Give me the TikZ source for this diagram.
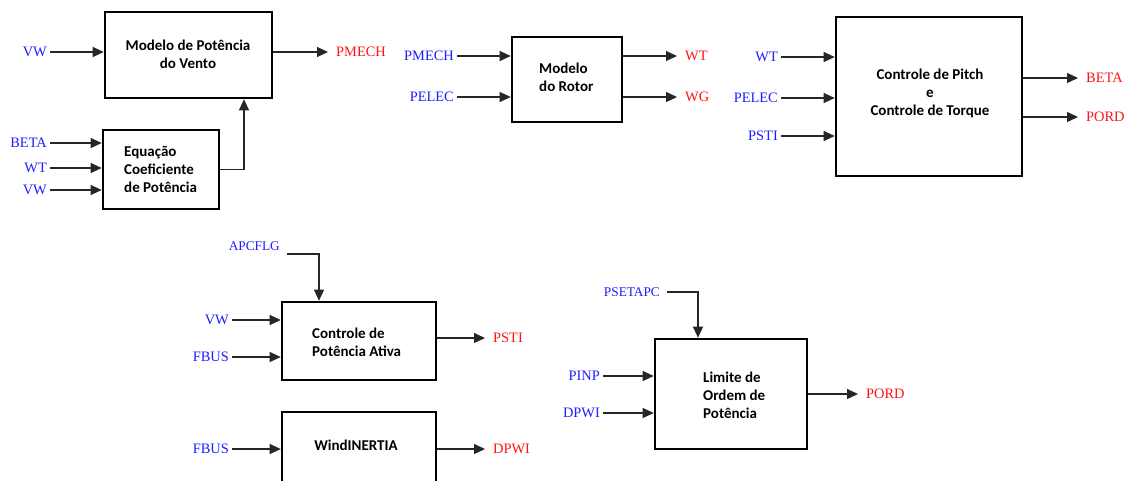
\documentclass[tikz,border=0pt]{standalone}
\usepackage{fontspec}
\setmainfont{Liberation Serif}
\newfontfamily\boxfont{Carlito}
\usetikzlibrary{arrows.meta}
\definecolor{lblue}{RGB}{30,30,255}
\definecolor{lred}{RGB}{255,20,20}
\tikzset{
  blk/.style={draw, line width=2.6pt, inner sep=0pt},
  btext/.style={font=\boxfont\bfseries\fontsize{15}{18}\selectfont, inner sep=0pt},
  inl/.style={font=\fontsize{14.4}{16}\selectfont, text=lblue, anchor=east, inner xsep=3pt, inner ysep=0pt},
  smallin/.style={font=\fontsize{13.3}{15}\selectfont},
  outl/.style={font=\fontsize{14.4}{16}\selectfont, text=lred, anchor=west, inner xsep=8pt, inner ysep=0pt},
  arr/.style={-{Triangle[length=11pt,width=10pt]}, line width=1.1pt, draw=black!85}
}
\begin{document}
\begin{tikzpicture}[x=1pt,y=-1pt]
\clip (0,0) rectangle (1131,480);
\fill[white] (0,0) rectangle (1131,480);

% Box 1
\node[blk, minimum width=167pt, minimum height=86pt] (b1) at (188.5,55) {};
\node[btext, align=center] (t1) at (188,54) {Modelo de Potência\\do Vento};
\node[inl] (vw1) at (50,52) {VW};
\node[outl] (pmech1) at (328,52) {PMECH};
\draw[arr] (vw1.east) -- (b1.west |- vw1.east);
\draw[arr] (b1.east |- pmech1.west) -- (pmech1.west);

% Box 2
\node[blk, minimum width=116pt, minimum height=79pt] (b2) at (161,169.5) {};
\node[btext, align=left, anchor=west] (t2) at (124,169.5) {Equação\\Coeficiente\\de Potência};
\node[inl] (beta2) at (50,143) {BETA};
\node[inl] (wt2) at (50,168) {WT};
\node[inl] (vw2) at (50,190) {VW};
\draw[arr] (beta2.east) -- (b2.west |- beta2.east);
\draw[arr] (wt2.east) -- (b2.west |- wt2.east);
\draw[arr] (vw2.east) -- (b2.west |- vw2.east);
\draw[arr] (b2.east) -| ([xshift=55.5pt]b1.south);

% Box 3
\node[blk, minimum width=110pt, minimum height=85pt] (b3) at (567,79.5) {};
\node[btext, align=left, anchor=west] (t3) at (539,77) {Modelo\\do Rotor};
\node[inl] (pmech3) at (457,56) {PMECH};
\node[inl] (pelec3) at (457,97) {PELEC};
\node[outl] (wt3) at (677,56) {WT};
\node[outl] (wg3) at (677,97) {WG};
\draw[arr] (pmech3.east) -- (b3.west |- pmech3.east);
\draw[arr] (pelec3.east) -- (b3.west |- pelec3.east);
\draw[arr] (b3.east |- wt3.west) -- (wt3.west);
\draw[arr] (b3.east |- wg3.west) -- (wg3.west);

% Box 4
\node[blk, minimum width=186pt, minimum height=159pt] (b4) at (929,96.5) {};
\node[btext, align=center] (t4) at (930,93) {Controle de Pitch\\e\\Controle de Torque};
\node[inl] (wt4) at (781,57) {WT};
\node[inl] (pelec4) at (781,98) {PELEC};
\node[inl] (psti4) at (781,136) {PSTI};
\node[outl] (beta4) at (1078,78) {BETA};
\node[outl] (pord4) at (1078,117) {PORD};
\draw[arr] (wt4.east) -- (b4.west |- wt4.east);
\draw[arr] (pelec4.east) -- (b4.west |- pelec4.east);
\draw[arr] (psti4.east) -- (b4.west |- psti4.east);
\draw[arr] (b4.east |- beta4.west) -- (beta4.west);
\draw[arr] (b4.east |- pord4.west) -- (pord4.west);

% Box 5
\node[blk, minimum width=154pt, minimum height=78pt] (b5) at (359,341) {};
\node[btext, align=left, anchor=west] (t5) at (312,342) {Controle de\\Potência Ativa};
\node[inl, smallin] (apc) at (283,246) {APCFLG};
\node[inl] (vw5) at (232,320) {VW};
\node[inl] (fbus5) at (232,357) {FBUS};
\node[outl] (psti5) at (485,338) {PSTI};
\draw[arr] ([xshift=4pt,yshift=-8pt]apc.east) -| ([xshift=-40pt]b5.north);
\draw[arr] (vw5.east) -- (b5.west |- vw5.east);
\draw[arr] (fbus5.east) -- (b5.west |- fbus5.east);
\draw[arr] (b5.east |- psti5.west) -- (psti5.west);

% Box 6
\node[blk, minimum width=154pt, minimum height=90pt] (b6) at (359,457) {};
\node[btext] (t6) at (356,445) {WindINERTIA};
\node[inl] (fbus6) at (232,449) {FBUS};
\node[outl] (dpwi6) at (485,449) {DPWI};
\draw[arr] (fbus6.east) -- (b6.west |- fbus6.east);
\draw[arr] (b6.east |- dpwi6.west) -- (dpwi6.west);

% Box 7
\node[blk, minimum width=152pt, minimum height=110pt] (b7) at (731,394) {};
\node[btext, align=left, anchor=west] (t7) at (703,395) {Limite de\\Ordem de\\Potência};
\node[inl, smallin] (pset) at (663,292) {PSETAPC};
\node[inl] (pinp7) at (603,376) {PINP};
\node[inl] (dpwi7) at (603,413) {DPWI};
\node[outl] (pord7) at (858,394) {PORD};
\draw[arr] ([xshift=4pt]pset.east) -| ([xshift=-33pt]b7.north);
\draw[arr] (pinp7.east) -- (b7.west |- pinp7.east);
\draw[arr] (dpwi7.east) -- (b7.west |- dpwi7.east);
\draw[arr] (b7.east |- pord7.west) -- (pord7.west);
\end{tikzpicture}
\end{document}
